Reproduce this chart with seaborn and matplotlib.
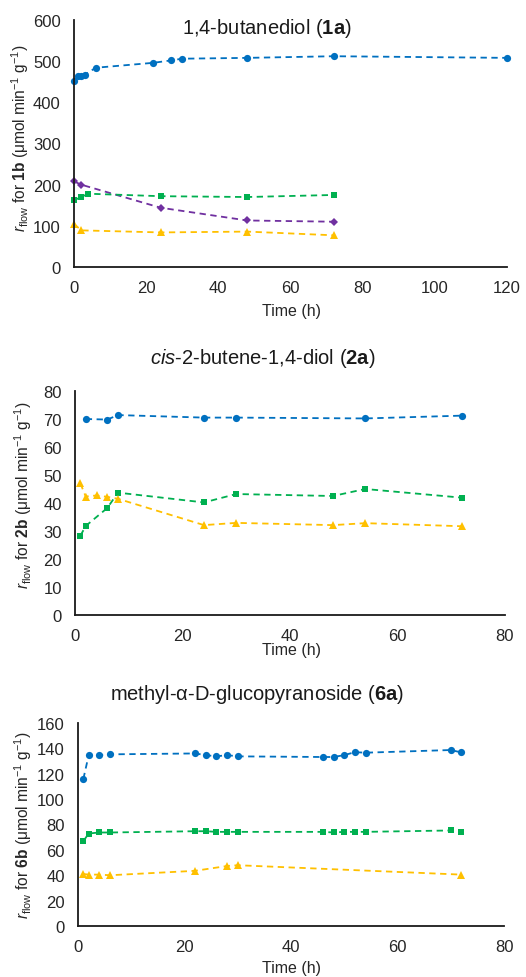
import matplotlib
matplotlib.use("Agg")
import matplotlib.pyplot as plt
import seaborn as sns
import pandas as pd

sns.set_style("white")
plt.rcParams["font.family"] = ["Liberation Sans", "DejaVu Sans"]
plt.rcParams["mathtext.fontset"] = "custom"
plt.rcParams["mathtext.rm"] = "Liberation Sans"
plt.rcParams["mathtext.it"] = "Liberation Sans:italic"
plt.rcParams["mathtext.bf"] = "Liberation Sans:bold"

BLUE = "#0070C0"
GREEN = "#00B050"
YELLOW = "#FFC000"
PURPLE = "#7030A0"

# --- 1,4-butanediol (1a) ---
t1_blue = [0, 1, 2, 3, 6, 22, 27, 30, 48, 72, 120]
r1_blue = [452, 463, 463, 467, 484, 496, 502, 506, 508, 512, 508]
t1_purple = [0, 2, 24, 48, 72]
r1_purple = [208, 200, 144, 113, 110]
t1_green = [0, 2, 4, 24, 48, 72]
r1_green = [162, 170, 178, 172, 170, 175]
t1_yellow = [0, 2, 24, 48, 72]
r1_yellow = [105, 89, 84, 86, 77]

# --- cis-2-butene-1,4-diol (2a) ---
t2_blue = [2, 6, 8, 24, 30, 54, 72]
r2_blue = [70.0, 69.8, 71.4, 70.5, 70.5, 70.2, 71.2]
t2_green = [1, 2, 6, 8, 24, 30, 48, 54, 72]
r2_green = [28.3, 31.8, 38.2, 43.7, 40.2, 43.2, 42.5, 45.0, 41.9]
t2_yellow = [1, 2, 4, 6, 8, 24, 30, 48, 54, 72]
r2_yellow = [47.0, 42.3, 42.7, 42.2, 41.5, 32.1, 32.9, 32.1, 32.8, 31.7]

# --- methyl-alpha-D-glucopyranoside (6a) ---
t3_blue = [1, 2, 4, 6, 22, 24, 26, 28, 30, 46, 48, 50, 52, 54, 70, 72]
r3_blue = [115.8, 134.5, 134.7, 135.3, 136.0, 134.7, 133.7, 134.7, 133.7,
           133.2, 133.2, 134.7, 137.0, 136.6, 138.7, 136.8]
t3_green = [1, 2, 4, 6, 22, 24, 26, 28, 30, 46, 48, 50, 52, 54, 70, 72]
r3_green = [66.8, 72.9, 73.7, 73.7, 74.7, 74.7, 74.2, 74.2, 74.2,
            74.2, 73.7, 74.2, 74.2, 74.2, 75.3, 74.2]
t3_yellow = [1, 2, 4, 6, 22, 28, 30, 72]
r3_yellow = [41.0, 40.5, 40.5, 40.0, 43.5, 47.3, 47.9, 40.5]

titles = [
    r"1,4-butanediol ($\mathbf{1a}$)",
    r"$\mathit{cis}$-2-butene-1,4-diol ($\mathbf{2a}$)",
    r"methyl-α-D-glucopyranoside ($\mathbf{6a}$)",
]
ylabels = [
    r"$\mathit{r}_{\mathrm{flow}}$ for $\mathbf{1b}$ (μmol min$^{-1}$ g$^{-1}$)",
    r"$\mathit{r}_{\mathrm{flow}}$ for $\mathbf{2b}$ (μmol min$^{-1}$ g$^{-1}$)",
    r"$\mathit{r}_{\mathrm{flow}}$ for $\mathbf{6b}$ (μmol min$^{-1}$ g$^{-1}$)",
]

panels = [
    dict(series=[(t1_blue, r1_blue, BLUE, "o", 5.2),
                 (t1_purple, r1_purple, PURPLE, "D", 4.3),
                 (t1_green, r1_green, GREEN, "s", 5.0),
                 (t1_yellow, r1_yellow, YELLOW, "^", 6.2)],
         xlim=(0, 120), xstep=20, ylim=(0, 600), ystep=100,
         rect=[74 / 526, 1 - 268 / 978, 433 / 526, 247 / 978],
         title_xy=(267, 29), xlabel_y=312, ylab_xy=(-0.099, 0.526)),
    dict(series=[(t2_blue, r2_blue, BLUE, "o", 5.2),
                 (t2_green, r2_green, GREEN, "s", 5.0),
                 (t2_yellow, r2_yellow, YELLOW, "^", 6.2)],
         xlim=(0, 80), xstep=20, ylim=(0, 80), ystep=10,
         rect=[75 / 526, 1 - 616 / 978, 430 / 526, 224 / 978],
         title_xy=(263, 359), xlabel_y=651, ylab_xy=(-0.095, 0.537)),
    dict(series=[(t3_blue, r3_blue, BLUE, "o", 5.2),
                 (t3_green, r3_green, GREEN, "s", 5.0),
                 (t3_yellow, r3_yellow, YELLOW, "^", 6.2)],
         xlim=(0, 80), xstep=20, ylim=(0, 160), ystep=20,
         rect=[78 / 526, 1 - 927 / 978, 426 / 526, 203 / 978],
         title_xy=(257, 695), xlabel_y=969, ylab_xy=(-0.104, 0.5)),
]

W, H = 526, 978
fig = plt.figure(figsize=(W / 100, H / 100), dpi=100)
TXT = "#262626"

for p, title, ylab in zip(panels, titles, ylabels):
    ax = fig.add_axes(p["rect"])
    for t, r, c, m, ms in p["series"]:
        df = pd.DataFrame({"Time (h)": t, "r": r})
        sns.lineplot(data=df, x="Time (h)", y="r", ax=ax, color=c,
                     marker=m, markersize=ms, markeredgewidth=0,
                     linestyle=(0, (3.5, 2.5)), linewidth=1.3,
                     sort=False, estimator=None)
    ax.set_xlim(*p["xlim"])
    ax.set_ylim(*p["ylim"])
    ax.set_xticks(range(p["xlim"][0], p["xlim"][1] + 1, p["xstep"]))
    ax.set_yticks(range(p["ylim"][0], p["ylim"][1] + 1, p["ystep"]))
    ax.tick_params(axis="both", length=0, labelsize=12, colors=TXT, pad=9.5)
    for s in ("top", "right"):
        ax.spines[s].set_visible(False)
    for s in ("left", "bottom"):
        ax.spines[s].set_color("#1a1a1a")
        ax.spines[s].set_linewidth(1.3)
    ax.set_xlabel("")
    ax.set_ylabel(ylab, fontsize=11.2, color=TXT)
    ax.yaxis.set_label_coords(*p["ylab_xy"])
    ax.patch.set_alpha(0)
    for ln in ax.lines:
        ln.set_clip_on(False)
    fig.text(p["title_xy"][0] / W, 1 - p["title_xy"][1] / H, title,
             ha="center", va="center", fontsize=14.5, color="#1a1a1a")
    fig.text(292 / W, 1 - p["xlabel_y"] / H, "Time (h)",
             ha="center", va="center", fontsize=11.5, color=TXT)

fig.savefig("out.png", dpi=100)
